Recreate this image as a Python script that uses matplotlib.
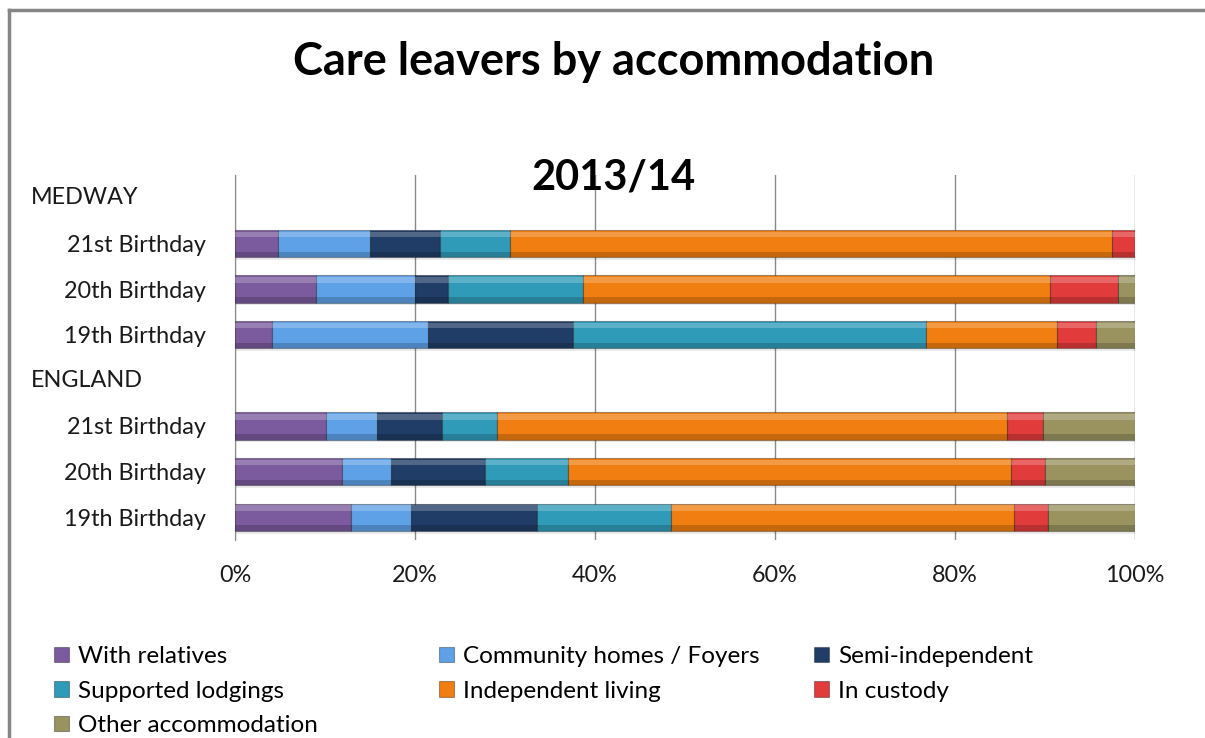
import numpy as np
import matplotlib
matplotlib.use("Agg")
import matplotlib.pyplot as plt
from matplotlib.transforms import blended_transform_factory
from matplotlib.lines import Line2D

plt.rcParams["font.family"] = ["Lato", "DejaVu Sans"]

row_labels = ["MEDWAY", "21st Birthday", "20th Birthday", "19th Birthday",
              "ENGLAND", "21st Birthday", "20th Birthday", "19th Birthday"]
group_rows = [0, 4]
bar_rows = [1, 2, 3, 5, 6, 7]

# percentages, order: Medway 21st, 20th, 19th, England 21st, 20th, 19th
with_relatives = [4.8, 9.0, 4.1, 10.1, 11.9, 12.9]
community_homes = [10.2, 11.0, 17.3, 5.7, 5.4, 6.7]
semi_independent = [7.8, 3.7, 16.2, 7.2, 10.5, 14.0]
supported_lodgings = [7.7, 15.0, 39.2, 6.1, 9.2, 14.8]
independent_living = [66.9, 51.9, 14.5, 56.7, 49.2, 38.2]
in_custody = [2.6, 7.5, 4.4, 4.0, 3.8, 3.7]
other_accommodation = [0.0, 1.9, 4.3, 10.2, 10.0, 9.7]

series = [
    ("With relatives", with_relatives, "#7b5a9e"),
    ("Community homes / Foyers", community_homes, "#5ea1e6"),
    ("Semi-independent", semi_independent, "#1f3d66"),
    ("Supported lodgings", supported_lodgings, "#2f9bb8"),
    ("Independent living", independent_living, "#f07e10"),
    ("In custody", in_custody, "#e23b3b"),
    ("Other accommodation", other_accommodation, "#9a9360"),
]

fig = plt.figure(figsize=(12.05, 7.38), dpi=100)
ax = fig.add_axes([235 / 1205, 1 - 540 / 738, 900 / 1205, 365 / 738])

totals = np.sum([s[1] for s in series], axis=0)
left = np.zeros(len(bar_rows))
y = np.array(bar_rows, dtype=float)
handles = []
for name, vals, color in series:
    w = np.array(vals) / totals * 100
    # soft drop shadow
    ax.barh(y + 0.06, w, left=left, height=0.6, color="#000000", alpha=0.08,
            linewidth=0, zorder=2)
    bars = ax.barh(y, w, left=left, height=0.6, color=color,
                   edgecolor="#00000055", linewidth=0.8, zorder=3, label=name)
    # bevel highlight and shade
    ax.barh(y - 0.2, w, left=left, height=0.12, color="white", alpha=0.22,
            linewidth=0, zorder=4)
    ax.barh(y + 0.24, w, left=left, height=0.12, color="black", alpha=0.18,
            linewidth=0, zorder=4)
    handles.append(bars)
    left += w

ax.set_xlim(0, 100)
ax.set_ylim(7.5, -0.5)
ax.set_xticks(np.arange(0, 101, 20))
ax.set_xticklabels([f"{v}%" for v in range(0, 101, 20)])
ax.set_yticks(range(len(row_labels)))
ax.set_yticklabels(["" if i in group_rows else lab for i, lab in enumerate(row_labels)])
ax.tick_params(axis="both", length=0, labelsize=16.8, colors="#1a1a1a")
ax.tick_params(axis="y", pad=21)
ax.tick_params(axis="x", pad=18)
ax.grid(axis="x", color="#8a8a8a", linewidth=1)
ax.set_axisbelow(True)
for side in ["top", "right", "bottom"]:
    ax.spines[side].set_visible(False)
ax.spines["left"].set_color("#8a8a8a")

tr = blended_transform_factory(fig.transFigure, ax.transData)
for i in group_rows:
    ax.text(31 / 1205, i, row_labels[i], transform=tr, ha="left", va="center",
            fontsize=16.8, color="#1a1a1a")

fig.text(614 / 1205, 1 - 62 / 738, "Care leavers by accommodation",
         ha="center", va="center", fontsize=32.5, fontweight="bold")
fig.text(613 / 1205, 1 - 178 / 738, "2013/14", ha="center", va="center",
         fontsize=30, fontweight="bold")

# legend laid out in three columns like the original
col_x = [54 / 1205, 439 / 1205, 814 / 1205]
cols = [[0, 3, 6], [1, 4], [2, 5]]
for cx, idx in zip(col_x, cols):
    fig.legend([handles[i] for i in idx], [series[i][0] for i in idx],
               loc="upper left", bbox_to_anchor=(cx, 1 - 646 / 738),
               frameon=False, fontsize=17.5, handlelength=0.6,
               handleheight=0.6, handletextpad=0.4, labelspacing=0.56,
               borderpad=0, borderaxespad=0)

# outer frame lines (left and top)
fig.add_artist(Line2D([9 / 1205, 9 / 1205], [0, 1 - 10 / 738], color="#868686",
                      linewidth=2.5, transform=fig.transFigure))
fig.add_artist(Line2D([9 / 1205, 1], [1 - 10 / 738, 1 - 10 / 738], color="#868686",
                      linewidth=2.5, transform=fig.transFigure))

fig.savefig("out.png", dpi=100)
